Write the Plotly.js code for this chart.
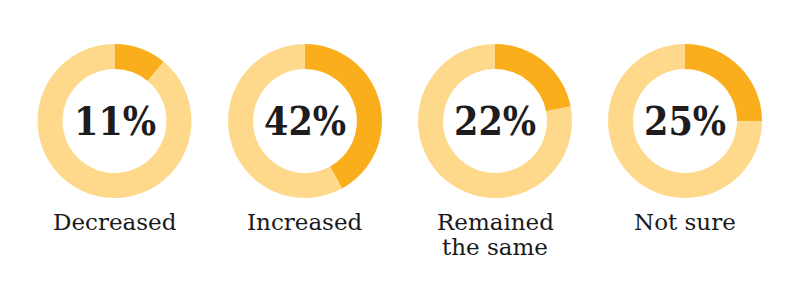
<!DOCTYPE html>
<html><head><meta charset="utf-8">
<script src="https://cdn.plot.ly/plotly-3.0.1.min.js"></script>
<style>html,body{margin:0;padding:0;background:#fff}#chart{width:800px;height:295px}</style>
</head><body><div id="chart"></div>
<script>
const categories = ["Decreased", "Increased", "Remained<br>the same", "Not sure"];
const shares = [11, 42, 22, 25];
const percentLabels = ["11%", "42%", "22%", "25%"];

const W = 800, H = 295;
const centersX = [114.5, 305, 495, 685];
const centerY = 121, R = 77;
const darkC = "#FBAE1C", lightC = "#FED98C";
const labelY0 = 222, lineGap = 25;

const traces = [], annotations = [];
categories.forEach((cat, i) => {
  const cx = centersX[i];
  traces.push({
    type: "pie",
    values: [shares[i], 100 - shares[i]],
    labels: ["yes", "rest"],
    sort: false,
    direction: "clockwise",
    rotation: 0,
    hole: 0.675,
    textinfo: "none",
    hoverinfo: "none",
    showlegend: false,
    marker: {colors: [darkC, lightC], line: {width: 0}},
    domain: {x: [(cx - R) / W, (cx + R) / W], y: [(H - centerY - R) / H, (H - centerY + R) / H]}
  });
  annotations.push({
    text: percentLabels[i], x: cx / W, y: (H - centerY) / H, xref: "paper", yref: "paper",
    showarrow: false, xanchor: "center", yanchor: "middle",
    font: {family: "DejaVu Serif Condensed, DejaVu Serif", size: 39, color: "#1e1c1c", weight: 700}
  });
  cat.split("<br>").forEach((line, j) => {
    annotations.push({
      text: line, x: cx / W, y: (H - labelY0 - j * lineGap) / H, xref: "paper", yref: "paper",
      showarrow: false, xanchor: "center", yanchor: "middle",
      font: {family: "DejaVu Serif", size: 23, color: "#1a1a1a"}
    });
  });
});

Plotly.newPlot("chart", traces, {
  width: W, height: H, margin: {l: 0, r: 0, t: 0, b: 0},
  paper_bgcolor: "#fff", plot_bgcolor: "#fff", annotations: annotations
}, {staticPlot: true});
</script></body></html>
